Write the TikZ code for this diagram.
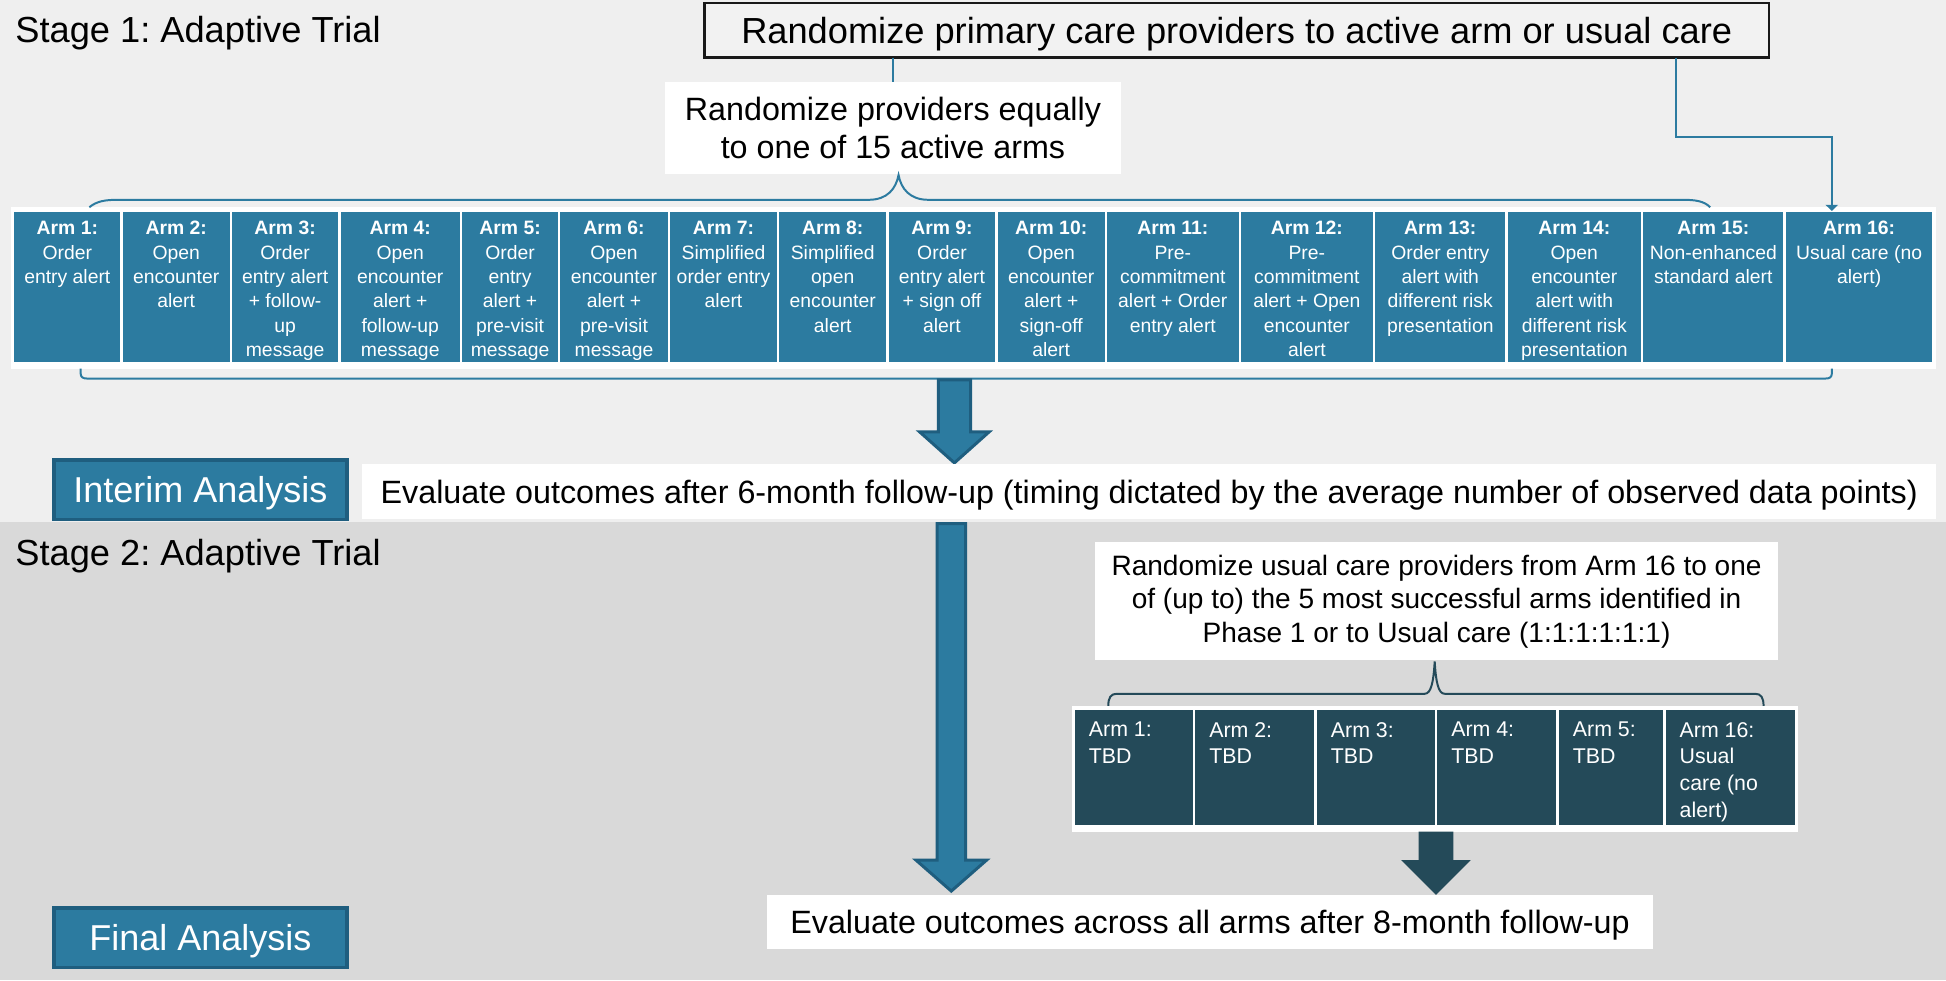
\documentclass[tikz,border=0pt]{standalone}
\usepackage{fontspec}
\setmainfont{Liberation Sans}
\usetikzlibrary{arrows.meta}
\frenchspacing
\definecolor{bgtop}{HTML}{EFEFEF}
\definecolor{bgbot}{HTML}{D9D9D9}
\definecolor{teal1}{HTML}{2C7BA0}
\definecolor{tealdk}{HTML}{1F5E7F}
\definecolor{slate}{HTML}{244A59}
\definecolor{topfill}{HTML}{F2F2F2}
\newcommand\ArmCell[4]{%
  \node[armcell, minimum width={(#3-#2)*0.5pt}] (#1) at ({(#2+#3)/2},231.5) {};
  \node[armtext, anchor=north] (#1t) at ({(#2+#3)/2},178) {#4};
}
\newcommand\SlateCell[4]{%
  \node[slatetext, anchor=north west] (#1t) at ({#2+12},581.5) {#4};
}
\newcommand\SlateBox[3]{%
  \node[slatecell, minimum width={(#3-#2)*0.5pt}] (#1) at ({(#2+#3)/2},618.5) {};
}
\begin{document}
\frenchspacing
\begin{tikzpicture}[x=0.5pt,y=-0.5pt,
  conn/.style={draw=teal1, line width=0.8pt},
  brace1/.style={draw=teal1, line width=0.8pt},
  brace2/.style={draw=slate, line width=0.8pt},
  armcell/.style={rectangle, fill=teal1, draw=white, line width=1pt, inner sep=0pt, outer sep=0pt, minimum height=61.5pt},
  armtext/.style={text=white, align=center, inner sep=0pt, font=\fontsize{7.8}{9.8}\selectfont},
  slatecell/.style={rectangle, fill=slate, draw=white, line width=1pt, inner sep=0pt, outer sep=0pt, minimum height=47.5pt},
  slatetext/.style={text=white, align=left, inner sep=0pt, font=\fontsize{8.6}{10.75}\selectfont},
  whitebox/.style={rectangle, fill=white, inner sep=0pt, outer sep=0pt},
  analysisbox/.style={rectangle, fill=teal1, draw=tealdk, line width=1.5pt, inner sep=0pt, outer sep=0pt, minimum width=118pt, minimum height=24pt, text=white, font=\fontsize{14.5}{17}\selectfont, text height=10.38pt, text depth=0pt},
  heading/.style={inner sep=0pt, anchor=base west, font=\fontsize{14.6}{17}\selectfont},
  blockarrow/.style={fill=teal1, draw=tealdk, line width=1.2pt, line join=miter},
]
\useasboundingbox (0,0) rectangle (1568,790);
% backgrounds
\fill[bgtop] (0,0) rectangle (1568,421);
\fill[bgbot] (0,421) rectangle (1568,790);

% headings
\node[heading] (stage1) at (12,34) {Stage 1: Adaptive Trial};
\node[heading] (stage2) at (12,456) {Stage 2: Adaptive Trial};

% top box
\node[rectangle, fill=topfill, draw=black!90, line width=1pt, inner sep=0pt, outer sep=0pt,
      minimum width=429pt, minimum height=22pt, font=\fontsize{14.6}{17}\selectfont,
      text height=10.45pt, text depth=0pt]
      (topbox) at (996.5,24.5) {Randomize primary care providers to active arm or usual care};

% equal randomisation box
\node[whitebox, minimum width=183.5pt, minimum height=37pt, align=center,
      font=\fontsize{13}{15.5}\selectfont] (eqbox) at (719.5,103)
      {Randomize providers equally\\to one of 15 active arms};

% white strip behind arms
\node[whitebox, minimum width=775.5pt, minimum height=65pt] (strip1) at (784.5,232) {};

% stage 1 arms
\ArmCell{arm1}{10.5}{98}{\textbf{Arm 1:}\\Order\\entry alert}
\ArmCell{arm2}{98}{186}{\textbf{Arm 2:}\\Open\\encounter\\alert}
\ArmCell{arm3}{186}{273.5}{\textbf{Arm 3:}\\Order\\entry alert\\+ follow-\\up\\message}
\ArmCell{arm4}{273.5}{371.5}{\textbf{Arm 4:}\\Open\\encounter\\alert +\\follow-up\\message}
\ArmCell{arm5}{371.5}{450.5}{\textbf{Arm 5:}\\Order\\entry\\alert +\\pre-visit\\message}
\ArmCell{arm6}{450.5}{539}{\textbf{Arm 6:}\\Open\\encounter\\alert +\\pre-visit\\message}
\ArmCell{arm7}{539}{627}{\textbf{Arm 7:}\\Simplified\\order entry\\alert}
\ArmCell{arm8}{627}{715}{\textbf{Arm 8:}\\Simplified\\open\\encounter\\alert}
\ArmCell{arm9}{715}{803}{\textbf{Arm 9:}\\Order\\entry alert\\+ sign off\\alert}
\ArmCell{arm10}{803}{891}{\textbf{Arm 10:}\\Open\\encounter\\alert +\\sign-off\\alert}
\ArmCell{arm11}{891}{999}{\textbf{Arm 11:}\\Pre-\\commitment\\alert + Order\\entry alert}
\ArmCell{arm12}{999}{1107}{\textbf{Arm 12:}\\Pre-\\commitment\\alert + Open\\encounter\\alert}
\ArmCell{arm13}{1107}{1214}{\textbf{Arm 13:}\\Order entry\\alert with\\different risk\\presentation}
\ArmCell{arm14}{1214}{1323}{\textbf{Arm 14:}\\Open\\encounter\\alert with\\different risk\\presentation}
\ArmCell{arm15}{1323}{1438}{\textbf{Arm 15:}\\Non-enhanced\\standard alert}
\ArmCell{arm16}{1438}{1558}{\textbf{Arm 16:}\\Usual care (no\\alert)}

% connectors from top box
\draw[conn] (eqbox.north |- topbox.south) -- (eqbox.north);
\draw[conn, -{Triangle[width=5pt,length=2.5pt]}]
  (1350.5,0 |- topbox.south) |- (1476,110.5) -- (1476,0 |- arm16.north);

% top brace
\draw[brace1] (72,167) .. controls (78,162) and (85,161) .. (95,161) -- (700,161)
  .. controls (715,161) and (722,152) .. (724,141)
  .. controls (726,152) and (733,161) .. (748,161) -- (1356,161)
  .. controls (1366,161) and (1373,162) .. (1378,167);

% bottom bracket
\draw[brace1] (65,297) -- (65,301) .. controls (65,304) and (67,305) .. (70,305) -- (1471,305)
  .. controls (1474,305) and (1476,304) .. (1476,301) -- (1476,297);

% block arrow 1
\draw[blockarrow] (756,306) -- (782,306) -- (782,348) -- (797,348) -- (769,373) -- (741,348) -- (756,348) -- cycle;

% interim analysis row
\node[analysisbox] (interim) at (161.5,394.5) {Interim Analysis};
\node[whitebox, minimum width=634pt, minimum height=22pt, font=\fontsize{13}{15}\selectfont,
      text height=9.31pt, text depth=0pt]
  (eval6) at (926,396) {Evaluate outcomes after 6-month follow-up (timing dictated by the average number of observed data points)};

% block arrow 2
\draw[blockarrow] (755,422) -- (778,422) -- (778,693) -- (795,693) -- (766.5,718) -- (738,693) -- (755,693) -- cycle;

% stage 2 randomisation box
\node[whitebox, minimum width=275.5pt, minimum height=47.5pt, align=center,
      font=\fontsize{11.3}{13.5}\selectfont] (usualbox) at (1157.5,484.5)
      {Randomize usual care providers from Arm 16 to one\\of (up to) the 5 most successful arms identified in\\Phase 1 or to Usual care (1:1:1:1:1:1)};

% stage 2 brace
\draw[brace2] (893,569) .. controls (893,562) and (895,559) .. (900,559) -- (1148,559)
  .. controls (1153,559) and (1155,550) .. (1156,533)
  .. controls (1157,550) and (1159,559) .. (1164,559) -- (1414,559)
  .. controls (1419,559) and (1421,562) .. (1421,569);

% white strip behind stage 2 arms
\node[whitebox, minimum width=292.5pt, minimum height=50.5pt] (strip2) at (1156.5,619.5) {};

\SlateBox{sarm1}{865}{962}
\SlateBox{sarm2}{962}{1060}
\SlateBox{sarm3}{1060}{1157}
\SlateBox{sarm4}{1157}{1255}
\SlateBox{sarm5}{1255}{1341}
\SlateBox{sarm16}{1341}{1447}
\SlateCell{sarm1}{865}{962}{Arm 1:\\TBD}
\SlateCell{sarm2}{962}{1060}{Arm 2:\\TBD}
\SlateCell{sarm3}{1060}{1157}{Arm 3:\\TBD}
\SlateCell{sarm4}{1157}{1255}{Arm 4:\\TBD}
\SlateCell{sarm5}{1255}{1341}{Arm 5:\\TBD}
\SlateCell{sarm16}{1341}{1447}{Arm 16:\\Usual\\care (no\\alert)}

% small block arrow
\fill[slate] (1143,670) -- (1171,670) -- (1171,693) -- (1185,693) -- (1157,721) -- (1129,693) -- (1143,693) -- cycle;

% final row
\node[analysisbox] (final) at (161.5,755.5) {Final Analysis};
\node[whitebox, minimum width=357pt, minimum height=22pt, font=\fontsize{13}{15}\selectfont,
      text height=9.31pt, text depth=0pt]
  (eval8) at (975,743) {Evaluate outcomes across all arms after 8-month follow-up};
\end{tikzpicture}
\end{document}
